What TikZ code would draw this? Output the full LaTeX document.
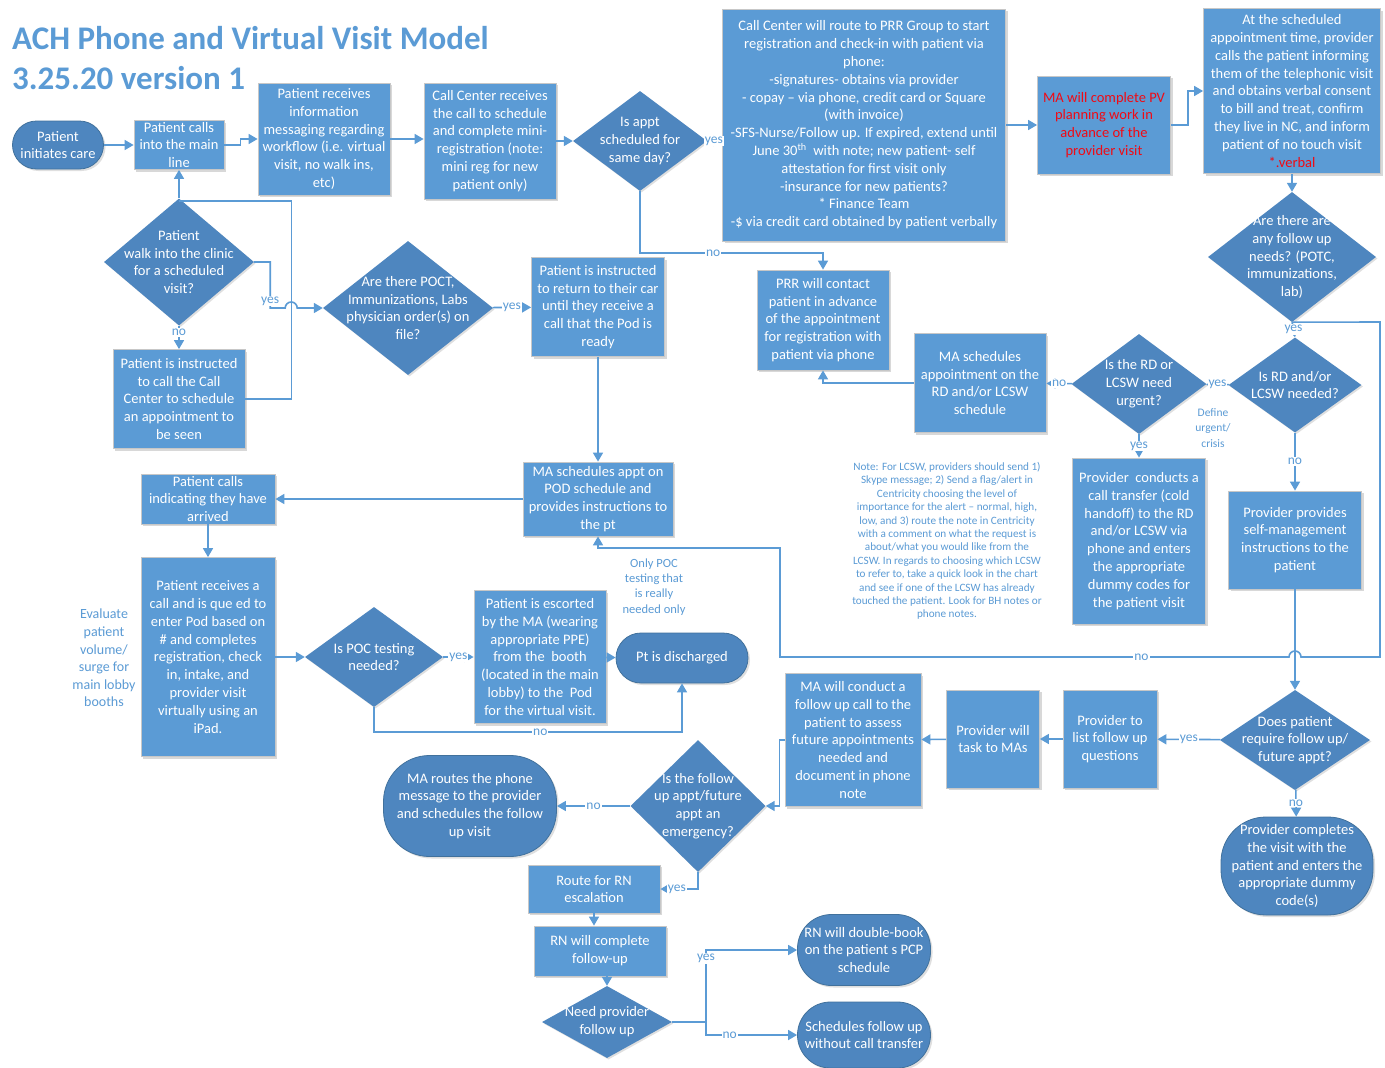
\documentclass[tikz,border=0pt]{standalone}
\usepackage{fontspec}
\setmainfont{Carlito}
\usetikzlibrary{shapes.geometric,arrows.meta,shadows}
\definecolor{boxblue}{HTML}{5B9BD5}
\definecolor{diablue}{HTML}{4E86BF}
\definecolor{termedge}{HTML}{41719C}
\definecolor{linkblue}{HTML}{5B9BD5}
\definecolor{alertred}{HTML}{F00A14}

\tikzset{
  stepbox/.style={rectangle, fill=boxblue, draw=black!22, line width=0.8pt, text=white,
    align=center, inner sep=0pt, font=\fontsize{14.5}{17.8}\selectfont,
    drop shadow={shadow xshift=2pt, shadow yshift=-2pt, opacity=.3}},
  decision/.style={diamond, fill=diablue, draw=none, inner sep=0pt,
    drop shadow={shadow xshift=1.5pt, shadow yshift=-1.5pt, opacity=.25}},
  dtext/.style={text=white, align=center, inner sep=0pt, font=\fontsize{14.5}{17.8}\selectfont},
  termbox/.style={rectangle, rounded corners=#1, fill=diablue, draw=termedge, line width=0.8pt,
    text=white, align=center, inner sep=0pt, font=\fontsize{14.5}{17.8}\selectfont,
    drop shadow={shadow xshift=2pt, shadow yshift=-2pt, opacity=.25}},
  flow/.style={draw=linkblue, line width=1.6pt, -{Triangle[width=10pt,length=9pt]}},
  link/.style={draw=linkblue, line width=1.6pt},
  yn/.style={fill=white, text=linkblue, inner sep=1pt, font=\fontsize{13.5}{15}\selectfont},
  memo/.style={text=linkblue, align=center, inner sep=0pt},
  headline/.style={text=boxblue, align=left, inner sep=0pt, font=\bfseries\fontsize{33}{40}\selectfont}
}

\begin{document}
\begin{tikzpicture}[x=1pt, y=-1pt]
  \useasboundingbox[fill=white] (0,0) rectangle (1385,1068);

  % title
  \node[headline, anchor=north west] (title) at (12,26) {ACH Phone and Virtual Visit Model\\3.25.20 version 1};

  % top row
  \node[termbox=24pt, minimum width=91, minimum height=48] (start) at (58,145) {Patient\\initiates care};
  \node[stepbox, minimum width=90, minimum height=49] (calls) at (179,145) {Patient calls\\into the main\\line};
  \node[stepbox, minimum width=132, minimum height=112] (info) at (324,139) {Patient receives\\information\\messaging regarding\\workflow (i.e. virtual\\visit, no walk ins,\\etc)};
  \node[stepbox, minimum width=132, minimum height=116] (cc) at (490,141) {Call Center receives\\the call to schedule\\and complete mini-\\registration (note:\\mini reg for new\\patient only)};
  \node[decision, minimum width=134, minimum height=100,
    label={[dtext]center:Is appt\\scheduled for\\same day?}] (sameday) at (640,141) {};
  \node[stepbox, minimum width=283, minimum height=232] (prr) at (864,125) {Call Center will route to PRR Group to start\\registration and check-in with patient via\\phone:\\-signatures- obtains via provider\\- copay – via phone, credit card or Square\\(with invoice)\\-SFS-Nurse/Follow up. If expired, extend until\\June 30\textsuperscript{th}~ with note; new patient- self\\attestation for first visit only\\-insurance for new patients?\\* Finance Team\\-\$ via credit card obtained by patient verbally};
  \node[stepbox, text=alertred, minimum width=133, minimum height=98] (mapv) at (1104,125) {MA will complete PV\\planning work in\\advance of the\\provider visit};
  \node[stepbox, minimum width=177, minimum height=165] (sched) at (1292,91) {At the scheduled\\appointment time, provider\\calls the patient informing\\them of the telephonic visit\\and obtains verbal consent\\to bill and treat, confirm\\they live in NC, and inform\\patient of no touch visit\\\textcolor{alertred}{*.verbal}};

  % walk-in branch
  \node[decision, minimum width=150, minimum height=127,
    label={[dtext]center:Patient\\walk into the clinic\\for a scheduled\\visit?}] (walkin) at (179,262) {};
  \node[stepbox, minimum width=132, minimum height=99] (callcc) at (179,399) {Patient is instructed\\to call the Call\\Center to schedule\\an appointment to\\be seen};
  \node[decision, minimum width=170, minimum height=134,
    label={[dtext]center:Are there POCT,\\Immunizations, Labs\\physician order(s) on\\file?}] (poct) at (408,308) {};
  \node[stepbox, minimum width=133, minimum height=99] (car) at (598,307) {Patient is instructed\\to return to their car\\until they receive a\\call that the Pod is\\ready};

  % RD / LCSW branch
  \node[decision, minimum width=168, minimum height=130,
    label={[dtext]center:Are there are\\any follow up\\needs? (POTC,\\immunizations,\\lab)}] (followneeds) at (1292,257) {};
  \node[stepbox, minimum width=132, minimum height=100] (prrcontact) at (823,320) {PRR will contact\\patient in advance\\of the appointment\\for registration with\\patient via phone};
  \node[stepbox, minimum width=132, minimum height=99] (marsched) at (980,383) {MA schedules\\appointment on the\\RD and/or LCSW\\schedule};
  \node[decision, minimum width=135, minimum height=100,
    label={[dtext]center:Is the RD or\\LCSW need\\urgent?}] (urgent) at (1139,384) {};
  \node[decision, minimum width=133, minimum height=95,
    label={[dtext]center:Is RD and/or\\LCSW needed?}] (rdneeded) at (1295,385) {};
  \node[memo, font=\fontsize{11.5}{15.5}\selectfont] (define) at (1213,428) {Define\\urgent/\\crisis};
  \node[memo, font=\fontsize{11.2}{13.4}\selectfont] (lcswnote) at (947,541) {Note: For LCSW, providers should send 1)\\Skype message; 2) Send a flag/alert in\\Centricity choosing the level of\\importance for the alert – normal, high,\\low, and 3) route the note in Centricity\\with a comment on what the request is\\about/what you would like from the\\LCSW. In regards to choosing which LCSW\\to refer to, take a quick look in the chart\\and see if one of the LCSW has already\\touched the patient. Look for BH notes or\\phone notes.};
  \node[stepbox, minimum width=133, minimum height=166] (coldhandoff) at (1139,541) {Provider~ conducts a\\call transfer (cold\\handoff) to the RD\\and/or LCSW via\\phone and enters\\the appropriate\\dummy codes for\\the patient visit};
  \node[stepbox, minimum width=133, minimum height=98] (selfmgmt) at (1295,540) {Provider provides\\self-management\\instructions to the\\patient};

  % pod branch
  \node[stepbox, minimum width=150, minimum height=74] (podsched) at (598,499) {MA schedules appt on\\POD schedule and\\provides instructions to\\the pt};
  \node[stepbox, minimum width=134, minimum height=50] (arrived) at (208,499) {Patient calls\\indicating they have\\arrived};
  \node[stepbox, minimum width=134, minimum height=199] (receive) at (208,657) {Patient receives a\\call and is que ed to\\enter Pod based on\\\# and completes\\registration, check\\in, intake, and\\provider visit\\virtually using an\\iPad.};
  \node[memo, font=\fontsize{14}{17.6}\selectfont] (evaluate) at (104,658) {Evaluate\\patient\\volume/\\surge for\\main lobby\\booths};
  \node[decision, minimum width=138, minimum height=100,
    label={[dtext]center:Is POC testing\\needed?}] (poctneeded) at (374,657) {};
  \node[stepbox, minimum width=132, minimum height=133] (escorted) at (540,657) {Patient is escorted\\by the MA (wearing\\appropriate PPE)\\from the~ booth\\(located in the main\\lobby) to the~ Pod\\for the virtual visit.};
  \node[termbox=25pt, minimum width=132, minimum height=50] (discharged) at (682,658) {Pt is discharged};
  \node[memo, font=\fontsize{12.5}{15.3}\selectfont] (onlypoc) at (654,587) {Only POC\\testing that\\is really\\needed only};

  % follow-up branch
  \node[decision, minimum width=150, minimum height=100,
    label={[dtext]center:Does patient\\require follow up/\\future appt?}] (require) at (1295,740) {};
  \node[stepbox, minimum width=94, minimum height=98] (listq) at (1110,739) {Provider to\\list follow up\\questions};
  \node[stepbox, minimum width=93, minimum height=98] (task) at (993,739) {Provider will\\task to MAs};
  \node[stepbox, minimum width=136, minimum height=133] (maconduct) at (853,740) {MA will conduct a\\follow up call to the\\patient to assess\\future appointments\\needed and\\document in phone\\note};
  \node[termbox=45pt, minimum width=152, minimum height=98] (completes) at (1297,866) {Provider completes\\the visit with the\\patient and enters the\\appropriate dummy\\code(s)};
  \node[decision, minimum width=135, minimum height=132,
    label={[dtext]center:Is the follow\\up appt/future\\appt an\\emergency?}] (emergency) at (698,806) {};
  \node[termbox=46pt, minimum width=173, minimum height=101] (routes) at (470,806) {MA routes the phone\\message to the provider\\and schedules the follow\\up visit};
  \node[stepbox, minimum width=132, minimum height=48] (rnesc) at (594,889) {Route for RN\\escalation};
  \node[stepbox, minimum width=132, minimum height=50] (rncomp) at (600,951) {RN will complete\\follow-up};
  \node[decision, minimum width=130, minimum height=72,
    label={[dtext]center:Need provider\\follow up}] (needprov) at (607,1022) {};
  \node[termbox=34pt, minimum width=133, minimum height=71] (dbook) at (864,950) {RN will double-book\\on the patient s PCP\\schedule};
  \node[termbox=33pt, minimum width=133, minimum height=66] (nocall) at (864,1035) {Schedules follow up\\without call transfer};

  % waypoints
  \coordinate (joint) at (179,201);
  \coordinate (loopne) at (1380,322);
  \coordinate (loopse) at (1380,657);
  \coordinate (hopr) at (1301,657);
  \coordinate (loopsw) at (780,657);
  \coordinate (loopnw) at (780,548);
  \coordinate (split) at (706,1022);

  % connectors, top row
  \draw[flow] (start) -- (calls);
  \draw[flow] (calls.east) -- ++(16,0) |- (info.west);
  \draw[flow] (info.east) -- (info.east -| cc.west);
  \draw[flow] (cc.east) -- (sameday.west);
  \draw[flow] (sameday.east) -- node[yn, pos=.45] (yessame) {yes} (sameday.east -| prr.west);
  \draw[flow] (sameday.south) -- ++(0,62) -| node[yn, pos=.2] (nosame) {no} (prrcontact.north);
  \draw[flow] (prr.east |- mapv) -- (mapv.west);
  \draw[flow] (mapv.east) -- ++(17,0) |- (sched.west);
  \draw[flow] (sched.south) -- (followneeds.north);

  % connectors, walk-in
  \draw[flow] (walkin.north) -- (calls.south);
  \draw[flow] (walkin) -- node[yn, pos=.3] (nowalk) {no} (callcc);
  \draw[flow] (walkin.east) -- ++(16,0) -- node[yn, pos=.85] (yeswalk) {yes} ++(0,46) -- ++(15,0)
    arc[start angle=180, end angle=0, radius=6pt] -- (poct.west);
  \draw[link] (callcc.east) -- ++(46,0) |- (joint);
  \draw[flow] (poct) -- node[yn] (yespoct) {yes} (car);
  \draw[flow] (car) -- (podsched);

  % connectors, RD / LCSW
  \draw[flow] (followneeds.south) -- node[yn] (yesfollow) {yes} (rdneeded.north);
  \draw[flow] (followneeds.south) -- (loopne) -- (loopse) -- (hopr)
    arc[start angle=0, end angle=180, radius=6pt] -- node[yn, pos=.29] (nofollow) {no} (loopsw)
    -- (loopnw) -| (podsched.south);
  \draw[flow] (rdneeded) -- node[yn] (yesrd) {yes} (urgent);
  \draw[flow] (rdneeded) -- node[yn] (nord) {no} (selfmgmt);
  \draw[flow] (urgent) -- node[yn] (nourgent) {no} (marsched);
  \draw[flow] (urgent) -- node[yn] (yesurgent) {yes} (coldhandoff);
  \draw[flow] (marsched.west) -| (prrcontact.south);
  \draw[flow] (selfmgmt) -- (require);

  % connectors, pod
  \draw[flow] (podsched) -- (arrived);
  \draw[flow] (arrived) -- (receive);
  \draw[flow] (receive) -- (poctneeded);
  \draw[flow] (poctneeded) -- node[yn] (yespocn) {yes} (escorted);
  \draw[flow] (escorted) -- (discharged);
  \draw[flow] (poctneeded.south) -- ++(0,25) -| node[yn, pos=.27] (nopocn) {no} (discharged.south);

  % connectors, follow-up
  \draw[flow] (require) -- node[yn] (yesreq) {yes} (listq);
  \draw[flow] (require) -- node[yn] (noreq) {no} (completes);
  \draw[flow] (listq) -- (task);
  \draw[flow] (task) -- (maconduct);
  \draw[flow] (maconduct.west) -- ++(-5,0) |- (emergency.east);
  \draw[flow] (emergency) -- node[yn] (noemerg) {no} (routes);
  \draw[flow] (emergency.south) |- node[yn, pos=.78] (yesemerg) {yes} (rnesc.east);
  \draw[flow] (rnesc.south) -- (rnesc.south |- rncomp.north);
  \draw[flow] (rncomp.south -| needprov.north) -- (needprov.north);
  \draw[link] (needprov.east) -- (split);
  \draw[flow] (split) |- node[yn, pos=.44] (yesneed) {yes} (dbook.west);
  \draw[flow] (split) |- node[yn, pos=.63] (noneed) {no} (nocall.west);
\end{tikzpicture}
\end{document}
